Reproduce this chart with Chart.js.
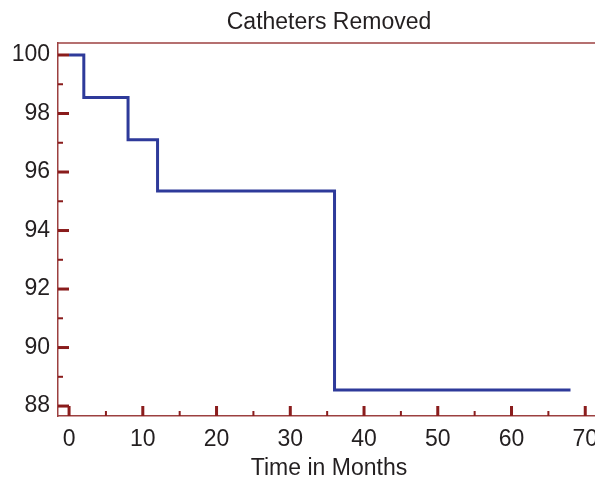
<!DOCTYPE html>
<html>
<head>
<meta charset="utf-8">
<script src="https://cdn.jsdelivr.net/npm/chart.js@4.4.1/dist/chart.umd.min.js"></script>
<style>
  html, body { margin: 0; padding: 0; background: #fff; overflow: hidden; }
  #wrap { width: 620px; height: 477px; }
</style>
</head>
<body>
<div id="wrap"><canvas id="km"></canvas></div>
<script>
// survival steps (months, % catheters remaining)
const months = [0, 2, 8, 12, 36, 68];
const survival = [100, 98.55, 97.1, 95.35, 88.55, 88.55];
const xTickLabels = [0, 10, 20, 30, 40, 50, 60, 70];
const yTickLabels = [88, 90, 92, 94, 96, 98, 100];

const TEXT = "#231f20";
const TICK = "#8a1c1c";
const FRAME = "#9c4040";
const FONT = "'Liberation Sans', Arial, sans-serif";

// inward tick marks + top frame line
const innerTicks = {
  id: "innerTicks",
  afterDatasetsDraw(chart) {
    const { ctx, chartArea, scales: { x, y } } = chart;
    ctx.save();
    ctx.strokeStyle = FRAME;
    ctx.lineWidth = 1.5;
    ctx.beginPath();
    ctx.moveTo(chartArea.left, chartArea.top);
    ctx.lineTo(chartArea.right, chartArea.top);
    ctx.stroke();

    ctx.fillStyle = TICK;
    xTickLabels.forEach((v, i) => {
      const px = x.getPixelForValue(v);
      ctx.fillRect(px - 1.5, chartArea.bottom - 10, 3, 10);
      if (i < xTickLabels.length - 1) {
        const mx = x.getPixelForValue((v + xTickLabels[i + 1]) / 2);
        ctx.fillRect(mx - 1, chartArea.bottom - 5, 2, 5);
      }
    });
    yTickLabels.forEach((v, i) => {
      const py = y.getPixelForValue(v);
      ctx.fillRect(chartArea.left, py - 1.5, 11, 3);
      if (i < yTickLabels.length - 1) {
        const my = y.getPixelForValue((v + yTickLabels[i + 1]) / 2);
        ctx.fillRect(chartArea.left, my - 1, 5, 2);
      }
    });
    ctx.restore();
  }
};

new Chart(document.getElementById("km"), {
  type: "line",
  data: {
    datasets: [{
      data: months.map((m, i) => ({ x: m, y: survival[i] })),
      stepped: "before",
      borderColor: "#2e3a9a",
      borderWidth: 3,
      pointRadius: 0,
      fill: false
    }]
  },
  options: {
    responsive: true,
    maintainAspectRatio: false,
    animation: false,
    layout: { padding: { left: 0, right: 20, top: 0, bottom: 0 } },
    plugins: {
      legend: { display: false },
      tooltip: { enabled: false },
      title: {
        display: true,
        fullSize: false,
        text: "Catheters Removed",
        color: TEXT,
        font: { family: FONT, size: 23, weight: "normal", lineHeight: 1.2 },
        padding: { top: 9, bottom: 6.4 }
      }
    },
    scales: {
      x: {
        type: "linear",
        min: -1.5,
        max: 72,
        afterBuildTicks: s => { s.ticks = xTickLabels.map(v => ({ value: v })); },
        afterFit: s => { s.height = 61; },
        grid: { display: false, drawTicks: false },
        border: { color: FRAME, width: 1.5 },
        ticks: { color: TEXT, padding: 10, maxRotation: 0, font: { family: FONT, size: 23 } },
        title: {
          display: true,
          text: "Time in Months",
          color: TEXT,
          font: { family: FONT, size: 23, lineHeight: 1 },
          padding: { top: 0, bottom: -3 }
        }
      },
      y: {
        min: 87.66,
        max: 100.41,
        afterBuildTicks: s => { s.ticks = yTickLabels.map(v => ({ value: v })); },
        afterFit: s => { s.width = 58; },
        grid: { display: false, drawTicks: false },
        border: { color: FRAME, width: 1.5 },
        ticks: { color: TEXT, padding: 8, font: { family: FONT, size: 23 } }
      }
    }
  },
  plugins: [innerTicks]
});
</script>
</body>
</html>
